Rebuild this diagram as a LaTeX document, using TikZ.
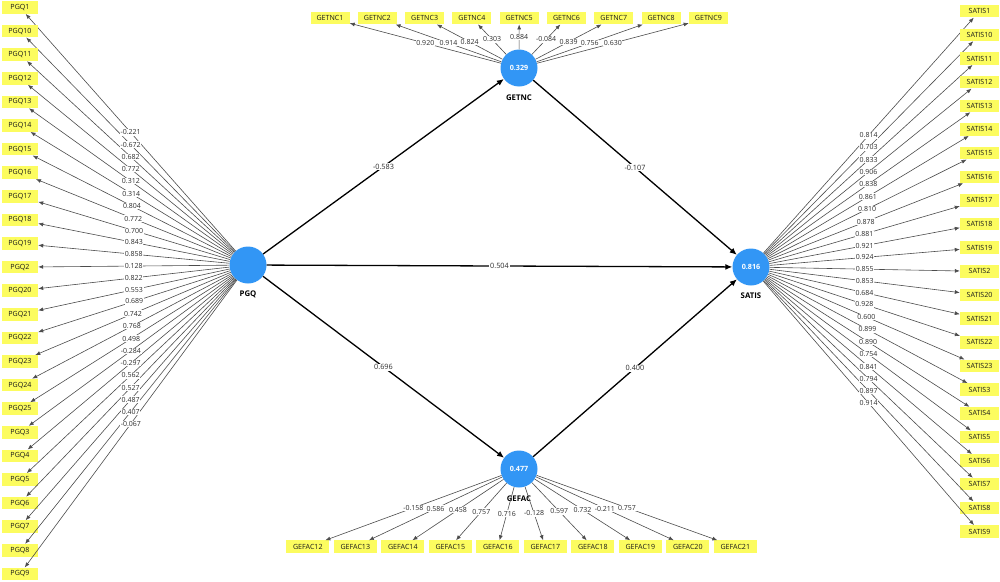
\documentclass[tikz,border=0pt]{standalone}
\usepackage{fontspec}
\setmainfont{Open Sans}
\usetikzlibrary{arrows.meta}
\definecolor{lvblue}{RGB}{50,150,245}
\definecolor{indyellow}{RGB}{252,252,95}
\definecolor{loadtxt}{RGB}{45,45,45}
\begin{document}
\begin{tikzpicture}[x=1pt,y=-1pt,
  lv/.style={circle,fill=lvblue,minimum size=37pt,inner sep=0pt,text=white,font=\fontsize{7.2}{8}\selectfont\bfseries},
  lvname/.style={font=\fontsize{7.8}{8}\selectfont\bfseries,text=black},
  indbox/.style={fill=indyellow,minimum height=12.5pt,inner sep=0pt,font=\fontsize{7.1}{8}\selectfont,text=black!90},
  pgqbox/.style={indbox,minimum width=36pt},
  satbox/.style={indbox,minimum width=39pt},
  getbox/.style={indbox,minimum width=39pt},
  gefbox/.style={indbox,minimum width=43pt},
  ind/.style={draw=black!70,line width=0.6pt,-{Latex[length=5pt,width=4pt]}},
  path/.style={draw=black,line width=1.3pt,-{Latex[length=7pt,width=6pt]}},
  load/.style={fill=white,inner sep=0.6pt,font=\fontsize{7}{7}\selectfont,text=loadtxt},
  pload/.style={fill=white,inner sep=0.8pt,font=\fontsize{7.3}{7}\selectfont,text=loadtxt}
]
\useasboundingbox (0,0) rectangle (1000,581);

% latent variables
\node[lv] (PGQ) at (248,265) {};
\node[lv] (GETNC) at (519,68) {0.329};
\node[lv] (GEFAC) at (519,469) {0.477};
\node[lv] (SATIS) at (751,267) {0.816};
\node[lvname] (PGQn) at (248,294) {PGQ};
\node[lvname] (GETNCn) at (519,98) {GETNC};
\node[lvname] (GEFACn) at (519,499) {GEFAC};
\node[lvname] (SATISn) at (751,296) {SATIS};

% PGQ indicators
\foreach \n/\v [count=\i from 0] in {PGQ1/-0.221,PGQ10/-0.672,PGQ11/0.682,PGQ12/0.772,PGQ13/0.312,PGQ14/0.314,PGQ15/0.804,PGQ16/0.772,PGQ17/0.700,PGQ18/0.843,PGQ19/0.858,PGQ2/0.128,PGQ20/0.822,PGQ21/0.553,PGQ22/0.689,PGQ23/0.742,PGQ24/0.768,PGQ25/0.498,PGQ3/-0.284,PGQ4/-0.297,PGQ5/0.562,PGQ6/0.527,PGQ7/0.487,PGQ8/0.407,PGQ9/-0.067}{
  \node[pgqbox] (\n) at (20,7.5+23.6*\i) {\n};
  \draw[ind] (PGQ) -- coordinate[pos=0.5] (m\n) (\n);
}
% SATIS indicators
\foreach \n/\v [count=\i from 0] in {SATIS1/0.814,SATIS10/0.703,SATIS11/0.833,SATIS12/0.906,SATIS13/0.838,SATIS14/0.861,SATIS15/0.810,SATIS16/0.878,SATIS17/0.881,SATIS18/0.921,SATIS19/0.924,SATIS2/0.855,SATIS20/0.853,SATIS21/0.684,SATIS22/0.928,SATIS23/0.600,SATIS3/0.899,SATIS4/0.890,SATIS5/0.754,SATIS6/0.841,SATIS7/0.794,SATIS8/0.897,SATIS9/0.914}{
  \node[satbox] (\n) at (979.5,11.2+23.65*\i) {\n};
  \draw[ind] (SATIS) -- coordinate[pos=0.5] (m\n) (\n);
}
% GETNC indicators
\foreach \n/\v [count=\i from 0] in {GETNC1/0.920,GETNC2/0.914,GETNC3/0.824,GETNC4/0.303,GETNC5/0.884,GETNC6/-0.084,GETNC7/0.839,GETNC8/0.756,GETNC9/0.630}{
  \node[getbox] (\n) at (330+47.3*\i,18) {\n};
  \draw[ind] (GETNC) -- coordinate[pos=0.5] (m\n) (\n);
}
% GEFAC indicators
\foreach \n/\v [count=\i from 0] in {GEFAC12/-0.158,GEFAC13/0.586,GEFAC14/0.458,GEFAC15/0.757,GEFAC16/0.716,GEFAC17/-0.128,GEFAC18/0.597,GEFAC19/0.732,GEFAC20/-0.211,GEFAC21/0.757}{
  \node[gefbox] (\n) at (307.8+47.5*\i,546.7) {\n};
  \draw[ind] (GEFAC) -- coordinate[pos=0.5] (m\n) (\n);
}

% loading labels on top
\foreach \n/\v in {PGQ1/-0.221,PGQ10/-0.672,PGQ11/0.682,PGQ12/0.772,PGQ13/0.312,PGQ14/0.314,PGQ15/0.804,PGQ16/0.772,PGQ17/0.700,PGQ18/0.843,PGQ19/0.858,PGQ2/0.128,PGQ20/0.822,PGQ21/0.553,PGQ22/0.689,PGQ23/0.742,PGQ24/0.768,PGQ25/0.498,PGQ3/-0.284,PGQ4/-0.297,PGQ5/0.562,PGQ6/0.527,PGQ7/0.487,PGQ8/0.407,PGQ9/-0.067,
SATIS1/0.814,SATIS10/0.703,SATIS11/0.833,SATIS12/0.906,SATIS13/0.838,SATIS14/0.861,SATIS15/0.810,SATIS16/0.878,SATIS17/0.881,SATIS18/0.921,SATIS19/0.924,SATIS2/0.855,SATIS20/0.853,SATIS21/0.684,SATIS22/0.928,SATIS23/0.600,SATIS3/0.899,SATIS4/0.890,SATIS5/0.754,SATIS6/0.841,SATIS7/0.794,SATIS8/0.897,SATIS9/0.914,
GETNC1/0.920,GETNC2/0.914,GETNC3/0.824,GETNC4/0.303,GETNC5/0.884,GETNC6/-0.084,GETNC7/0.839,GETNC8/0.756,GETNC9/0.630,
GEFAC12/-0.158,GEFAC13/0.586,GEFAC14/0.458,GEFAC15/0.757,GEFAC16/0.716,GEFAC17/-0.128,GEFAC18/0.597,GEFAC19/0.732,GEFAC20/-0.211,GEFAC21/0.757}{
  \node[load] (l\n) at (m\n) {\v};
}

% structural paths
\draw[path] (PGQ) -- node[pload] (p1) {-0.583} (GETNC);
\draw[path] (PGQ) -- node[pload] (p2) {0.504} (SATIS);
\draw[path] (PGQ) -- node[pload] (p3) {0.696} (GEFAC);
\draw[path] (GETNC) -- node[pload] (p4) {-0.107} (SATIS);
\draw[path] (GEFAC) -- node[pload] (p5) {0.400} (SATIS);
\end{tikzpicture}
\end{document}
